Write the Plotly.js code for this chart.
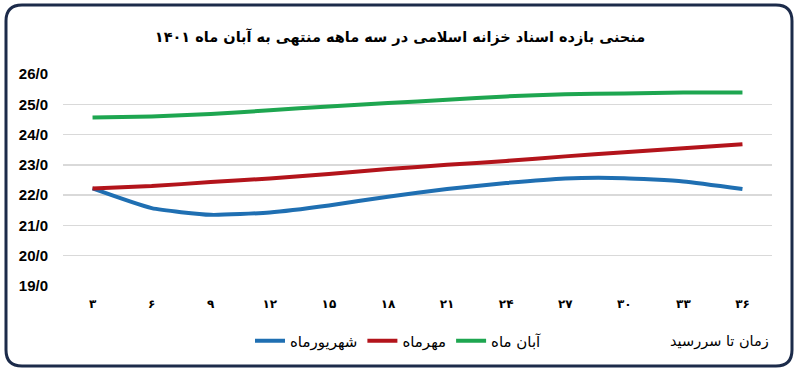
<!DOCTYPE html>
<html>
<head>
<meta charset="utf-8">
<script src="https://cdn.plot.ly/plotly-3.0.1.min.js"></script>
<style>html,body{margin:0;padding:0;background:#fff;}#chart{width:800px;height:380px;}</style>
</head>
<body>
<div id="chart"></div>
<script>
// Data
const categories = ["۳","۶","۹","۱۲","۱۵","۱۸","۲۱","۲۴","۲۷","۳۰","۳۳","۳۶"];
const shahrivar = [22.22, 21.57, 21.35, 21.43, 21.66, 21.95, 22.2, 22.4, 22.55, 22.56, 22.45, 22.2];
const mehr      = [22.22, 22.3, 22.43, 22.55, 22.7, 22.86, 23.0, 23.13, 23.28, 23.42, 23.55, 23.68];
const aban      = [24.56, 24.6, 24.68, 24.8, 24.93, 25.04, 25.15, 25.26, 25.33, 25.36, 25.39, 25.39];
const seriesNames = ["شهریورماه", "مهرماه", "آبان ماه"];
const yTickVals = [19, 20, 21, 22, 23, 24, 25, 26];
const yTickText = ["19/0","20/0","21/0","22/0","23/0","24/0","25/0","26/0"];
const titleText = "منحنی بازده اسناد خزانه اسلامی در سه ماهه منتهی به آبان ماه ۱۴۰۱";
const xTitleText = "زمان تا سررسید";

const xIdx = categories.map((_, i) => i);
const FONT = "DejaVu Sans, Noto Sans, sans-serif";
const NUMFONT = "Liberation Sans, Arial, sans-serif";

const L = 63, R = 772, T = 74, B = 286;
function px(x) { return ((x - L) / (R - L)).toFixed(4); }
function py(y) { return ((B - y) / (B - T)).toFixed(4); }
function roundRect(x0, y0, x1, y1, r) {
  return `M${px(x0 + r)},${py(y0)} L${px(x1 - r)},${py(y0)} Q${px(x1)},${py(y0)} ${px(x1)},${py(y0 + r)} ` +
         `L${px(x1)},${py(y1 - r)} Q${px(x1)},${py(y1)} ${px(x1 - r)},${py(y1)} ` +
         `L${px(x0 + r)},${py(y1)} Q${px(x0)},${py(y1)} ${px(x0)},${py(y1 - r)} ` +
         `L${px(x0)},${py(y0 + r)} Q${px(x0)},${py(y0)} ${px(x0 + r)},${py(y0)} Z`;
}

const colors = ["#1f6fb2", "#b3141b", "#1ea650"];
const dataSets = [shahrivar, mehr, aban];
const traces = dataSets.map((d, i) => ({
  x: xIdx, y: d, name: seriesNames[i], type: "scatter", mode: "lines",
  line: { color: colors[i], width: 4, shape: "spline", smoothing: 0.5 },
  hoverinfo: "skip"
}));

const layout = {
  width: 800, height: 380,
  margin: { l: L, r: 800 - R, t: T, b: 380 - B, pad: 0 },
  paper_bgcolor: "#fff", plot_bgcolor: "#fff",
  font: { family: FONT, color: "#000" },
  title: { text: "<b>" + titleText + "</b>", font: { size: 14.5, family: FONT, color: "#000" },
           x: 0.5, xanchor: "center", y: 1 - 37 / 380, yanchor: "middle", xref: "container", yref: "container" },
  xaxis: {
    range: [-0.5, 11.5], tickmode: "array", tickvals: xIdx,
    ticktext: categories.map(c => "<b>" + c + "</b>"),
    showgrid: false, zeroline: false, showline: false, ticks: "",
    tickfont: { size: 12, family: FONT, color: "#000" }, ticklabelstandoff: 9, fixedrange: true
  },
  yaxis: {
    range: [19, 26], tickmode: "array", tickvals: yTickVals,
    ticktext: yTickText.map(t => "<b>" + t + "</b>"),
    showgrid: true, gridcolor: "#d9d9d9", gridwidth: 1.5, zeroline: false, showline: false,
    ticks: "", tickfont: { size: 15, family: NUMFONT, color: "#000" }, ticklabelstandoff: 14, fixedrange: true
  },
  showlegend: true,
  legend: {
    orientation: "h", x: (250 - L) / (R - L), xanchor: "left", y: (B - 341) / (B - T), yanchor: "middle",
    font: { size: 15, family: FONT, color: "#000" }, bgcolor: "rgba(0,0,0,0)", itemwidth: 30, tracegroupgap: 0
  },
  annotations: [{
    text: xTitleText, xref: "paper", yref: "paper", x: (771 - L) / (R - L), xanchor: "right",
    y: (B - 341) / (B - T), yanchor: "middle", showarrow: false,
    font: { size: 14.5, family: FONT, color: "#000" }
  }],
  shapes: [{
    type: "path", xref: "paper", yref: "paper", path: roundRect(6, 5, 792, 366, 16),
    line: { color: "#1c2b4a", width: 3 }, fillcolor: "rgba(0,0,0,0)", layer: "above"
  }]
};

Plotly.newPlot("chart", traces, layout, { displayModeBar: false, staticPlot: true });
</script>
</body>
</html>
